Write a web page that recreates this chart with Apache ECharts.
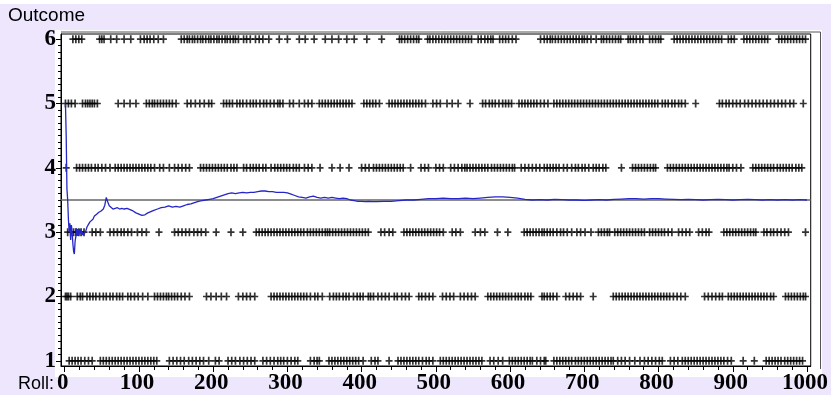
<!DOCTYPE html>
<html>
<head>
<meta charset="utf-8">
<script src="https://cdn.jsdelivr.net/npm/echarts@6/dist/echarts.min.js"></script>
<style>
html,body{margin:0;padding:0;background:#ede6fd;}
#chart{width:831px;height:395px;}
</style>
</head>
<body>
<div id="chart"></div>
<script>
// ---- tick labels ----
const yTicks = [1, 2, 3, 4, 5, 6];
const yMinorTicks = [1.0,1.1,1.2,1.3,1.4,1.5,1.6,1.7,1.8,1.9,2.0,2.1,2.2,2.3,2.4,2.5,2.6,2.7,2.8,2.9,3.0,3.1,3.2,3.3,3.4,3.5,3.6,3.7,3.8,3.9,4.0,4.1,4.2,4.3,4.4,4.5,4.6,4.7,4.8,4.9,5.0,5.1,5.2,5.3,5.4,5.5,5.6,5.7,5.8,5.9,6.0];
const xTicks = [0, 100, 200, 300, 400, 500, 600, 700, 800, 900, 1000];
const xMinorTicks = [0,20,40,60,80,100,120,140,160,180,200,220,240,260,280,300,320,340,360,380,400,420,440,460,480,500,520,540,560,580,600,620,640,660,680,700,720,740,760,780,800,820,840,860,880,900,920,940,960,980,1000];
const outcomes = [1, 2, 3, 4, 5, 6];
const refValue = 3.5;

const rollsOutcome6 = [11,15,19,23,47,50,53,62,70,80,89,102,107,111,115,120,126,133,
157,161,165,168,172,175,179,183,186,190,194,197,201,205,208,212,216,219,223,227,230,234,
241,245,250,257,262,267,275,289,300,316,324,336,351,360,369,380,390,407,427,
451,454,458,462,466,470,474,477,
489,492,496,500,504,508,512,516,520,524,528,532,536,540,544,548,
557,561,566,570,574,577,586,590,594,598,603,608,641,
646,650,654,657,661,665,669,673,677,681,685,689,693,
697,700,704,709,716,723,726,730,734,738,742,746,749,
759,762,766,770,775,779,788,792,796,800,803,
821,825,829,833,837,841,845,849,853,857,861,865,869,873,877,881,885,
894,898,902,915,919,923,927,931,935,939,943,947,
962,966,970,974,978,982,986,990,994,998];

const rollsOutcome5 = [1,5,9,14,24,28,31,34,37,40,44,72,80,88,96,
110,114,118,121,125,129,133,137,141,145,150,165,170,176,182,188,194,198,
214,218,222,226,232,236,240,245,250,254,258,263,268,272,277,282,287,290,294,
303,308,316,323,328,333,343,347,351,355,359,363,367,371,375,379,383,387,
403,407,411,415,419,424,437,441,445,449,453,457,461,465,469,473,477,481,486,
496,501,506,515,522,530,546,563,567,572,576,580,585,590,594,598,602,
612,616,620,624,628,632,636,641,646,651,
659,663,667,671,675,679,683,687,691,695,699,703,707,711,715,719,723,727,731,735,739,743,747,751,755,759,763,767,771,775,779,783,787,791,795,799,
805,809,813,818,822,827,831,836,850,
882,886,891,895,900,905,910,916,921,926,931,936,941,946,951,956,
961,966,971,977,982,995];

const rollsOutcome4 = [2,16,20,24,28,32,36,41,45,50,55,61,
68,72,76,80,84,88,92,96,100,104,108,112,116,121,128,133,141,148,153,158,163,168,
183,187,191,195,199,203,207,211,215,219,224,228,232,241,245,250,254,258,262,267,271,
278,283,287,291,295,299,303,308,312,316,323,328,333,344,360,371,383,
400,405,410,416,420,424,428,432,436,440,444,448,452,456,466,480,485,490,500,505,510,
520,525,530,535,539,542,546,550,554,558,562,566,570,575,579,583,587,591,595,599,603,606,
615,620,625,630,635,640,646,650,654,658,662,666,672,677,683,688,692,697,701,706,
712,716,720,725,729,750,765,769,773,777,781,785,789,793,796,
812,816,820,824,828,832,836,840,844,848,852,856,860,864,868,872,876,880,884,888,892,895,
900,905,911,927,931,935,939,943,947,951,955,960,964,968,972,976,980,985,989,993];

const rollsOutcome3 = [4,8,12,15,19,22,26,37,42,48,61,66,71,76,80,85,90,98,104,110,127,
148,153,158,163,168,174,179,184,190,204,224,240,
258,262,266,270,274,278,282,286,290,294,298,302,306,310,314,318,322,
327,331,335,339,343,347,351,354,357,361,365,369,373,377,381,385,389,393,397,401,405,409,
426,431,437,442,457,461,465,469,473,477,481,485,489,493,497,501,505,510,
522,527,533,553,560,566,583,597,619,623,627,631,635,639,643,
646,650,654,658,663,668,672,677,683,690,695,701,709,719,723,727,731,734,
741,745,749,753,757,761,765,769,773,777,781,788,792,796,800,804,808,813,818,
827,832,837,842,854,859,864,868,
888,892,896,900,904,908,912,916,920,924,928,931,942,946,951,955,960,965,970,975,998];

const rollsOutcome2 = [1,3,5,8,17,21,24,30,34,38,42,47,52,56,61,65,70,74,78,85,89,94,99,105,112,
121,125,129,133,137,140,144,148,152,157,162,168,191,197,204,211,218,234,240,245,250,256,
278,282,286,290,294,298,302,306,310,314,318,322,326,331,337,341,347,
357,362,366,370,375,379,383,389,394,398,402,409,412,416,422,427,432,437,
444,448,454,459,464,477,481,486,491,496,509,514,519,524,533,538,543,548,553,
570,574,578,582,586,590,594,598,602,607,611,615,620,624,628,643,
646,650,654,658,663,675,680,685,690,695,712,
739,743,747,751,755,759,763,767,771,775,779,783,787,791,795,799,803,807,811,815,820,825,830,836,
862,867,872,877,882,886,894,898,902,906,910,914,918,922,926,930,934,938,942,946,951,955,
971,975,979,983,987,991,995,998];

const rollsOutcome1 = [6,10,14,18,22,27,32,37,48,52,56,60,64,68,72,76,80,84,88,92,96,100,104,108,112,116,120,124,
141,146,151,156,161,167,172,177,182,187,194,203,208,220,225,230,236,241,246,251,256,
267,272,277,282,287,291,295,300,305,310,314,331,336,340,343,
356,360,364,368,372,376,380,384,388,392,396,402,413,418,422,437,
449,453,457,461,465,469,473,477,482,487,491,496,
506,510,514,518,522,526,530,534,538,542,546,550,554,558,562,573,578,584,590,
599,603,607,611,615,619,623,627,630,636,641,646,648,
659,663,667,671,675,679,683,688,692,696,700,704,708,712,716,720,724,728,732,736,739,
745,750,755,761,768,775,781,786,791,796,801,805,816,821,826,832,
836,840,844,848,852,856,860,864,868,872,876,880,884,888,893,898,914,929,
945,949,953,957,961,965,970,974,978,982,986,990,994];

// ---- running average (roll, mean so far) ----
const avgRolls = [1,2,3,4,5,6,7,8,9,10,11,12,13,14,15,16,17,18,19,20,21,22,23,24,25,26,28,30,32,34,36,38,40,43,46,49,52,54,56,58,60,62,65,68,71,74,77,80,84,88,92,96,100,104,108,112,116,120,125,130,135,140,145,150,155,160,165,170,175,180,185,190,195,200,205,210,215,220,225,230,235,240,245,250,255,260,265,270,275,280,285,290,295,300,305,310,315,320,325,330,335,340,345,350,355,360,365,370,375,380,385,390,395,400,405,410,415,420,430,440,450,460,470,480,490,500,510,520,530,540,550,560,570,580,590,600,610,620,630,640,650,660,670,680,690,700,710,720,730,740,750,760,770,780,790,800,810,820,830,840,850,860,870,880,890,900,910,920,930,940,950,960,970,980,990,1000];
const avgValues = [5.0,4.5,3.67,3.5,3.2,3.0,3.14,2.88,3.11,3.0,2.82,2.7,2.66,2.86,2.93,3.06,2.94,3.05,2.95,3.05,2.98,3.04,2.95,3.0,2.96,2.94,3.0,3.08,3.12,3.16,3.14,3.2,3.25,3.28,3.31,3.33,3.36,3.42,3.54,3.47,3.41,3.38,3.36,3.37,3.38,3.36,3.37,3.36,3.37,3.35,3.33,3.3,3.28,3.26,3.27,3.3,3.32,3.34,3.36,3.38,3.39,3.41,3.39,3.40,3.39,3.41,3.43,3.44,3.46,3.48,3.49,3.50,3.51,3.52,3.54,3.56,3.58,3.60,3.61,3.60,3.61,3.62,3.61,3.62,3.62,3.63,3.64,3.64,3.63,3.63,3.62,3.62,3.62,3.61,3.59,3.57,3.55,3.54,3.53,3.55,3.56,3.54,3.53,3.54,3.53,3.54,3.53,3.52,3.53,3.52,3.50,3.49,3.48,3.48,3.475,3.48,3.475,3.475,3.48,3.48,3.49,3.50,3.50,3.51,3.52,3.52,3.53,3.52,3.52,3.53,3.52,3.53,3.54,3.55,3.55,3.54,3.53,3.51,3.50,3.505,3.50,3.51,3.505,3.50,3.50,3.495,3.50,3.505,3.50,3.51,3.515,3.52,3.52,3.515,3.52,3.52,3.515,3.51,3.505,3.51,3.505,3.50,3.505,3.51,3.505,3.50,3.505,3.51,3.505,3.50,3.505,3.50,3.505,3.50,3.505,3.50];

// ---- build chart ----
const plusSymbol = 'path://M2.65,0H4.35V8H2.65Z M0,3.15H7V4.85H0Z';
const rowsByOutcome = {1: rollsOutcome1, 2: rollsOutcome2, 3: rollsOutcome3, 4: rollsOutcome4, 5: rollsOutcome5, 6: rollsOutcome6};

const scatterSeries = outcomes.map(o => ({
  type: 'scatter',
  name: 'Outcome ' + o,
  xAxisIndex: 0, yAxisIndex: 0,
  symbol: plusSymbol,
  symbolSize: [7, 8],
  itemStyle: { color: '#000' },
  silent: true,
  z: 3,
  data: rowsByOutcome[o].map(r => [r, o])
}));

const chart = echarts.init(document.getElementById('chart'), null, { renderer: 'canvas' });
const serif = '"Liberation Serif", "Times New Roman", serif';
const sans = '"Liberation Sans", Arial, sans-serif';

chart.setOption({
  animation: false,
  backgroundColor: '#ede6fd',
  grid: {
    left: 61, right: 12.5, top: 34, bottom: 26,
    show: true, backgroundColor: '#ffffff', borderColor: '#000', borderWidth: 1
  },
  graphic: [
    { type: 'rect', z: -10, shape: { x: 0, y: 0, width: 831, height: 4 }, style: { fill: '#ffffff' } },
    { type: 'rect', z: -10, shape: { x: 55, y: 30, width: 767, height: 347 }, style: { fill: '#ffffff' } },
    { type: 'line', z: 10, shape: { x1: 61, y1: 32, x2: 820.5, y2: 32 }, style: { stroke: '#555', lineWidth: 1 } },
    { type: 'line', z: 10, shape: { x1: 820.5, y1: 32, x2: 820.5, y2: 369 }, style: { stroke: '#555', lineWidth: 1 } },
    { type: 'text', left: 8, top: 6, style: { text: 'Outcome', font: '19px ' + sans, fill: '#000' } },
    { type: 'text', left: 18, top: 375, style: { text: 'Roll:', font: '18px ' + sans, fill: '#000' } }
  ],
  xAxis: [
    {
      type: 'value', min: -5, max: 1005, position: 'bottom',
      axisLine: { show: true, onZero: false, lineStyle: { color: '#000', width: 1 } },
      axisTick: { show: true, customValues: xTicks, length: 6, lineStyle: { color: '#000', width: 1 } },
      axisLabel: { customValues: xTicks, formatter: v => String(v), color: '#000', fontFamily: serif, fontWeight: 'bold', fontSize: 23, margin: 6, padding: [0, 4, 0, 0] },
      splitLine: { show: false }
    },
    {
      type: 'value', min: -5, max: 1005, position: 'bottom',
      axisLine: { show: false, onZero: false },
      axisTick: { show: true, customValues: xMinorTicks, length: 4, lineStyle: { color: '#000', width: 1 } },
      axisLabel: { show: false },
      splitLine: { show: false }
    }
  ],
  yAxis: [
    {
      type: 'value', min: 0.92, max: 6.08, position: 'left',
      axisLine: { show: true, onZero: false, lineStyle: { color: '#000', width: 1 } },
      axisTick: { show: true, customValues: yTicks, length: 5, lineStyle: { color: '#000', width: 1 } },
      axisLabel: { customValues: yTicks, formatter: v => String(v), color: '#000', fontFamily: serif, fontWeight: 'bold', fontSize: 23, margin: 5, padding: [9, 0, 0, 0] },
      splitLine: { show: false }
    },
    {
      type: 'value', min: 0.92, max: 6.08, position: 'left',
      axisLine: { show: false, onZero: false },
      axisTick: { show: true, customValues: yMinorTicks, length: 3, lineStyle: { color: '#000', width: 1 } },
      axisLabel: { show: false },
      splitLine: { show: false }
    }
  ],
  series: [
    ...scatterSeries,
    {
      type: 'line',
      name: 'Running mean',
      xAxisIndex: 0, yAxisIndex: 0,
      showSymbol: false,
      silent: true,
      z: 5,
      lineStyle: { color: '#2626c8', width: 1.3 },
      data: avgRolls.map((r, i) => [r, avgValues[i]]),
      markLine: {
        silent: true,
        symbol: ['none', 'none'],
        label: { show: false },
        lineStyle: { color: '#666', width: 1.6, type: 'solid' },
        z: 4,
        data: [{ yAxis: refValue }]
      }
    }
  ]
});
</script>
</body>
</html>
